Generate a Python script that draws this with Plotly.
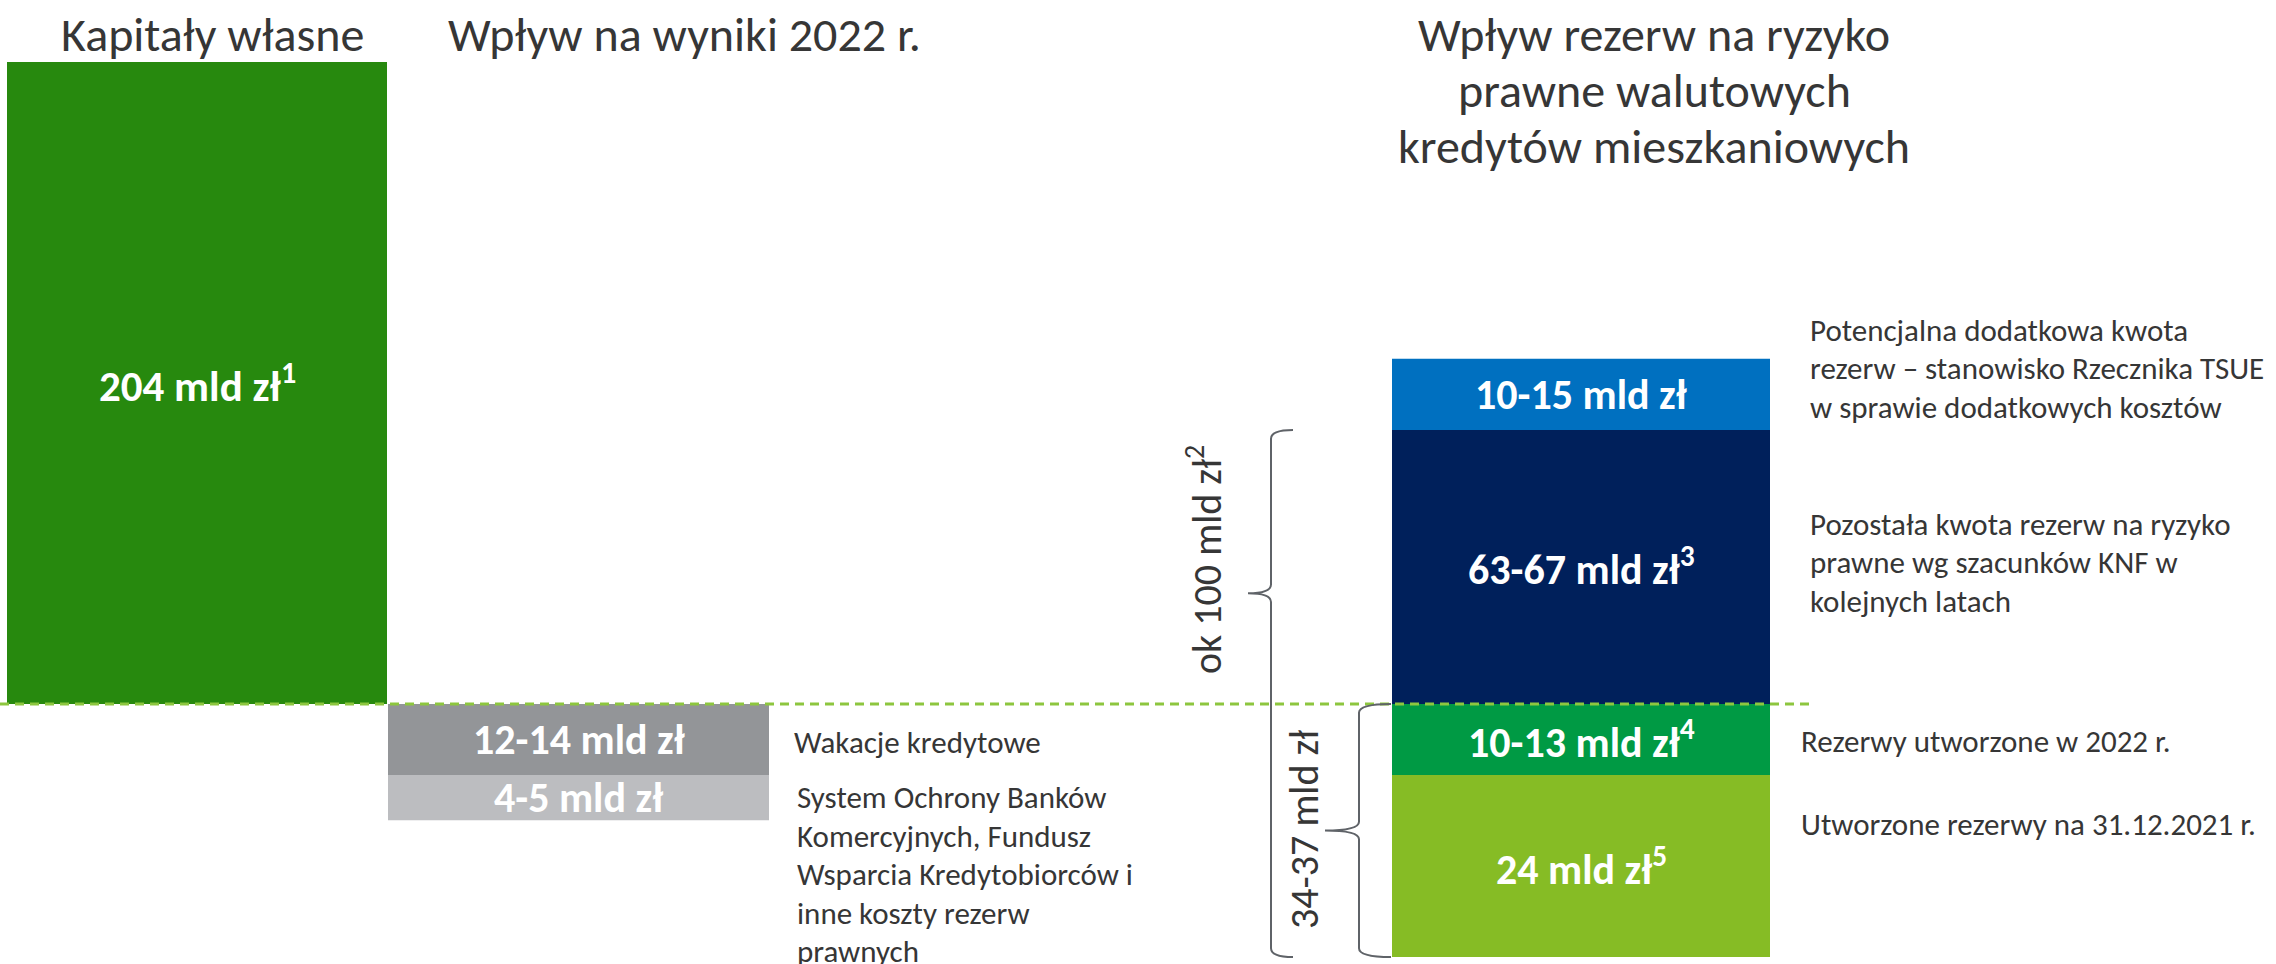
import plotly.graph_objects as go

W, H = 2276, 964

# ---------------- data (heights are the drawn, schematic heights) ----------------
column_titles = [
    "Kapitały własne",
    "Wpływ na wyniki 2022 r.",
    "Wpływ rezerw na ryzyko<br>prawne walutowych<br>kredytów mieszkaniowych",
]

capital_values = [204]
capital_labels = ["204 mld zł<sup>1</sup>"]

results_values = [-22.6, -14.3]
results_labels = ["12-14 mld zł", "4-5 mld zł"]
results_desc = [
    "Wakacje kredytowe",
    "System Ochrony Banków<br>Komercyjnych, Fundusz<br>Wsparcia Kredytobiorców i<br>inne koszty rezerw<br>prawnych",
]

reserves_below_values = [-22.6, -57.8]
reserves_below_labels = ["10-13 mld zł<sup>4</sup>", "24 mld zł<sup>5</sup>"]
reserves_below_desc = ["Rezerwy utworzone w 2022 r.", "Utworzone rezerwy na 31.12.2021 r."]

reserves_above_values = [87.1, 22.6]
reserves_above_labels = ["63-67 mld zł<sup>3</sup>", "10-15 mld zł"]
reserves_above_desc = [
    "Pozostała kwota rezerw na ryzyko<br>prawne wg szacunków KNF w<br>kolejnych latach",
    "Potencjalna dodatkowa kwota<br>rezerw – stanowisko Rzecznika TSUE<br>w sprawie dodatkowych kosztów",
]

brace_labels = ["ok 100 mld zł<sup>2</sup>", "34-37 mld zł"]

# ---------------- styles / layout ----------------
FONT = "Calibri, Carlito, Lato, sans-serif"
TXT = "#363636"
capital_color = ["#27890E"]
results_colors = ["#939598", "#BCBDC0"]
below_colors = ["#009A44", "#86BC25"]
above_colors = ["#00205B", "#0070C0"]

col_x = [197, 578.5, 1581]
col_w = [380, 381, 378]

PX_PER_UNIT = 642 / 204.0
BASE_PX = 704
y_top = BASE_PX / PX_PER_UNIT
y_bot = -(H - BASE_PX) / PX_PER_UNIT


def stack(values):
    bases, b = [], 0.0
    for v in values:
        bases.append(b)
        b += v
    return bases


def yu(px):  # pixel row -> y units (for text placement only)
    return (BASE_PX - px) / PX_PER_UNIT


fig = go.Figure()
annotations = []
shapes = []


def add_column(ci, values, colors, labels, lab_size):
    bases = stack(values)
    fig.add_trace(go.Bar(
        x=[col_x[ci]] * len(values), y=values, base=bases, width=[col_w[ci]] * len(values),
        marker=dict(color=colors, line=dict(width=0)), hoverinfo="skip", showlegend=False,
    ))
    for v, b, lab in zip(values, bases, labels):
        annotations.append(dict(
            x=col_x[ci], y=b + v / 2, xref="x", yref="y", text="<b>%s</b>" % lab, showarrow=False,
            font=dict(family=FONT, size=lab_size, color="white"),
            xanchor="center", yanchor="middle",
        ))
    return bases


add_column(0, capital_values, capital_color, capital_labels, 43)
res_bases = add_column(1, results_values, results_colors, results_labels, 42)
below_bases = add_column(2, reserves_below_values, below_colors, reserves_below_labels, 42)
above_bases = add_column(2, reserves_above_values, above_colors, reserves_above_labels, 42)

# dashed baseline
shapes.append(dict(type="line", xref="x", yref="y", x0=0, x1=1810, y0=0, y1=0,
                   line=dict(color="#8DC63F", width=3, dash="9px,6px"), layer="above"))


def text_block(text, px, py_center, spacing, size, anchor):
    lines = text.split("<br>")
    n = len(lines)
    for i, ln in enumerate(lines):
        py = py_center + (i - (n - 1) / 2.0) * spacing
        annotations.append(dict(x=px, y=yu(py), xref="x", yref="y", text=ln, showarrow=False,
                                font=dict(family=FONT, size=size, color=TXT), xanchor=anchor,
                                yanchor="middle", align=anchor))


# column titles
title_pos = [(212, 34), (684, 34), (1654, 90)]
for t, (px, py) in zip(column_titles, title_pos):
    text_block(t, px, py, 56, 48, "center")

# descriptions
desc_items = [
    (results_desc[0], 792, 742),
    (results_desc[1], 795, 874),
    (reserves_below_desc[0], 1799, 741),
    (reserves_below_desc[1], 1799, 824),
    (reserves_above_desc[0], 1808, 562),
    (reserves_above_desc[1], 1808, 368),
]
for t, px, py in desc_items:
    text_block(t, px, py, 38.5, 31, "left")


# braces
def brace(x_line, x_tip, x_end, y_t, y_b, y_p, r=2.8):
    return (f"M {x_end},{y_t} Q {x_line},{y_t} {x_line},{y_t - r} "
            f"L {x_line},{y_p + r} Q {x_line},{y_p} {x_tip},{y_p} "
            f"Q {x_line},{y_p} {x_line},{y_p - r} "
            f"L {x_line},{y_b + r} Q {x_line},{y_b} {x_end},{y_b}")


navy_top = above_bases[0] + reserves_above_values[0]
stack_bottom = below_bases[-1] + reserves_below_values[-1]
b1_p = navy_top - 0.31 * (navy_top - stack_bottom)
b2_p = 0.5 * stack_bottom
shapes.append(dict(type="path", xref="x", yref="y",
                   path=brace(1271, 1248, 1293, navy_top, stack_bottom, b1_p),
                   line=dict(color="#5f6368", width=2)))
shapes.append(dict(type="path", xref="x", yref="y",
                   path=brace(1359, 1325, 1391, 0, stack_bottom, b2_p),
                   line=dict(color="#5f6368", width=2)))

annotations.append(dict(x=1204, y=yu(560), xref="x", yref="y", text=brace_labels[0], showarrow=False,
                        textangle=-90, font=dict(family=FONT, size=40, color=TXT),
                        xanchor="center", yanchor="middle"))
annotations.append(dict(x=1304, y=yu(830), xref="x", yref="y", text=brace_labels[1], showarrow=False,
                        textangle=-90, font=dict(family=FONT, size=40, color=TXT),
                        xanchor="center", yanchor="middle"))

fig.update_layout(
    width=W, height=H, margin=dict(l=0, r=0, t=0, b=0),
    paper_bgcolor="white", plot_bgcolor="white", barmode="overlay",
    xaxis=dict(range=[0, W], visible=False, fixedrange=True),
    yaxis=dict(range=[y_bot, y_top], visible=False, fixedrange=True),
    annotations=annotations, shapes=shapes, showlegend=False,
)

fig.write_html("out.html", config={"displayModeBar": False},
               post_script="document.body.style.margin='0px';document.body.style.overflow='hidden';")
